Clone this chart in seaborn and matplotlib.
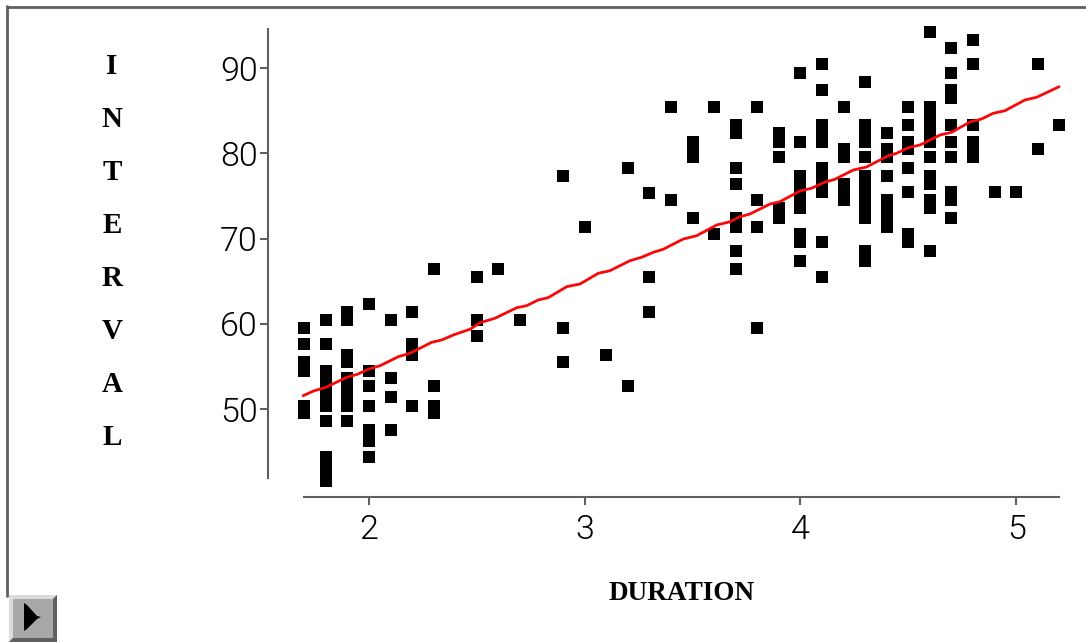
import matplotlib
matplotlib.use("Agg")
import matplotlib.pyplot as plt
from matplotlib.patches import Polygon
from matplotlib.lines import Line2D
import pandas as pd
import seaborn as sns

durations = [1.7, 1.8, 1.9, 2.0, 2.1, 2.2, 2.3, 2.5, 2.6, 2.7, 2.9, 3.0, 3.1, 3.2, 3.3, 3.4, 3.5, 3.6,
             3.7, 3.8, 3.9, 4.0, 4.1, 4.2, 4.3, 4.4, 4.5, 4.6, 4.7, 4.8, 4.9, 5.0, 5.1, 5.2]
intervals = [
    [59.5, 57.6, 55.5, 54.5, 50.4, 49.5],
    [60.4, 57.6, 54.5, 53.6, 52.6, 51.6, 51.0, 50.4, 48.6, 44.4, 43.5, 42.6, 41.6],
    [61.4, 60.4, 56.4, 55.5, 53.6, 52.6, 51.6, 51.0, 50.4, 48.6],
    [62.3, 54.5, 52.7, 50.4, 47.6, 47.0, 46.3, 44.4],
    [60.4, 53.6, 51.4, 47.6],
    [61.4, 57.6, 57.0, 56.4, 50.4],
    [66.4, 52.7, 50.4, 49.5],
    [65.5, 60.4, 58.6],
    [66.4],
    [60.4],
    [77.3, 59.5, 55.5],
    [71.4],
    [56.4],
    [78.3, 52.7],
    [75.4, 65.5, 61.4],
    [85.5, 74.5],
    [81.4, 80.5, 79.6, 72.4],
    [85.5, 70.5],
    [83.3, 82.4, 78.3, 76.4, 72.4, 71.4, 68.6, 66.4],
    [85.5, 74.5, 71.4, 59.5],
    [82.4, 81.4, 79.6, 73.6, 73.0, 72.4],
    [89.5, 81.4, 77.3, 76.4, 75.5, 74.5, 73.6, 70.5, 69.6, 67.4],
    [90.5, 87.4, 83.3, 82.4, 81.4, 78.3, 77.3, 76.4, 75.5, 69.6, 65.5],
    [85.5, 80.5, 79.6, 76.4, 75.5, 74.5],
    [88.4, 83.3, 82.4, 81.4, 79.6, 77.3, 76.4, 75.5, 74.5, 73.6, 73.0, 72.4, 68.6, 68.0, 67.4],
    [82.4, 80.5, 79.6, 77.3, 74.5, 73.6, 73.0, 72.4, 71.4],
    [85.5, 83.3, 81.4, 80.5, 78.3, 75.5, 70.5, 69.6],
    [94.2, 85.5, 84.6, 83.6, 83.0, 82.4, 81.4, 79.6, 77.3, 76.4, 74.5, 73.6, 68.6],
    [92.4, 89.5, 87.4, 86.5, 83.3, 81.4, 79.6, 75.5, 74.5, 72.4],
    [93.3, 90.5, 83.3, 81.4, 80.5, 79.6],
    [75.5],
    [75.5],
    [90.5, 80.5],
    [83.3],
]
smooth_x = [1.695, 1.742, 1.796, 1.897, 1.946, 1.997, 2.051, 2.136, 2.190, 2.291, 2.337, 2.391,
            2.468, 2.515, 2.584, 2.685, 2.731, 2.785, 2.831, 2.917, 2.978, 3.063, 3.117, 3.210,
            3.264, 3.318, 3.364, 3.457, 3.519, 3.612, 3.674, 3.720, 3.766, 3.859, 3.905, 3.998,
            4.052, 4.106, 4.160, 4.245, 4.307, 4.407, 4.446, 4.500, 4.554, 4.647, 4.701, 4.786,
            4.840, 4.894, 4.948, 5.041, 5.095, 5.199]
smooth_y = [51.57, 52.12, 52.51, 53.73, 54.08, 54.67, 55.09, 56.15, 56.55, 57.84, 58.11, 58.70,
            59.37, 60.14, 60.66, 61.90, 62.14, 62.81, 63.08, 64.37, 64.68, 65.94, 66.24, 67.42,
            67.82, 68.40, 68.76, 69.96, 70.35, 71.61, 71.99, 72.58, 72.90, 74.07, 74.34, 75.60,
            75.92, 76.57, 76.97, 78.06, 78.42, 79.74, 80.02, 80.68, 80.99, 82.17, 82.49, 83.70,
            84.05, 84.72, 85.02, 86.28, 86.60, 87.84]
x_ticks = [2, 3, 4, 5]
y_ticks = [50, 60, 70, 80, 90]
x_label = "DURATION"
y_label = "INTERVAL"

points = pd.DataFrame(
    [(d, v) for d, vs in zip(durations, intervals) for v in vs],
    columns=["DURATION", "INTERVAL"],
)
curve = pd.DataFrame({"DURATION": smooth_x, "INTERVAL": smooth_y})

W, H = 1086, 642
GRAY = "#606060"
sns.set_theme(style="white")
plt.rcParams["font.family"] = ["Liberation Mono", "DejaVu Sans"]

fig = plt.figure(figsize=(W / 100, H / 100), dpi=100, facecolor="white")
ax = fig.add_axes([304.3 / W, 1 - 478 / H, 755 / W, 449 / H])

sns.scatterplot(data=points, x="DURATION", y="INTERVAL", marker="s", s=64, color="black",
                linewidth=0, clip_on=False, ax=ax, zorder=2)
sns.lineplot(data=curve, x="DURATION", y="INTERVAL", color="#f80808", linewidth=2.0,
             estimator=None, sort=False, ax=ax, zorder=3, clip_on=False)

ax.set_xlim(1.7, 5.2)
ax.set_ylim(41.91, 94.61)
ax.set_xticks(x_ticks)
ax.set_yticks(y_ticks)
sns.despine(ax=ax, top=True, right=True)
ax.spines["left"].set_position(("outward", 36 * 0.72))
ax.spines["bottom"].set_position(("outward", 19 * 0.72))
for s in ("left", "bottom"):
    ax.spines[s].set_color(GRAY)
    ax.spines[s].set_linewidth(1.5)
ax.tick_params(axis="both", which="major", length=5.5, width=1.5, color=GRAY, labelsize=24.5,
               labelcolor="black", left=True, bottom=True)
ax.tick_params(axis="x", pad=7)
ax.tick_params(axis="y", pad=2)
for lab in ax.get_xticklabels() + ax.get_yticklabels():
    lab.set_family(["Roboto", "DejaVu Sans"])
    lab.set_fontweight(300)

ax.set_xlabel(x_label, fontsize=19.6, fontweight="bold", family=["Liberation Serif"], color="black")
ax.xaxis.set_label_coords((682 - 304.3) / 755, 1 - (594 - 29) / 449)
ax.xaxis.label.set_verticalalignment("center")
ax.set_ylabel("\n".join(y_label), rotation=0, fontsize=21, fontweight="bold",
              family=["Liberation Serif"], color="black", linespacing=2.24,
              ha="center", va="center")
ax.yaxis.set_label_coords((112 - 304.3) / 755, 1 - (252 - 29) / 449)

fx = lambda px: px / W
fy = lambda py: 1 - py / H
tr = fig.transFigure
fig.add_artist(Line2D([fx(7), fx(W)], [fy(6.5), fy(6.5)], color=GRAY, lw=2, transform=tr))
fig.add_artist(Line2D([fx(7), fx(7)], [fy(5.5), fy(596)], color=GRAY, lw=2, transform=tr))

def poly(pts, color):
    fig.add_artist(Polygon([(fx(a), fy(b)) for a, b in pts], closed=True, facecolor=color,
                           edgecolor="none", transform=tr))

poly([(9, 595), (57, 595), (57, 642), (9, 642)], "#a8a8a8")
poly([(9, 595), (57, 595), (53, 599), (13, 599), (13, 638), (9, 642)], "#dcdcdc")
poly([(57, 595), (57, 642), (9, 642), (13, 638), (53, 638), (53, 599)], "#606060")
poly([(24, 603), (27, 605), (37, 616), (41, 617), (37, 619), (27, 629), (24, 631)], "black")

fig.savefig("out.png", dpi=100, facecolor="white")
